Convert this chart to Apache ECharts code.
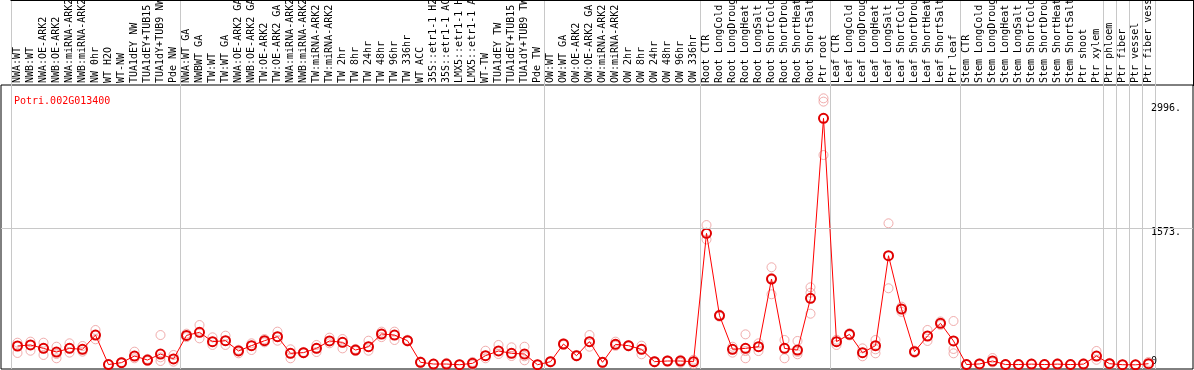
<!DOCTYPE html>
<html>
<head>
<meta charset="utf-8">
<script src="https://cdn.jsdelivr.net/npm/echarts@6/dist/echarts.min.js"></script>
<style>html,body{margin:0;padding:0;background:#fff}#c{width:1194px;height:370px}</style>
</head>
<body>
<div id="c"></div>
<script>
const geneId = 'Potri.002G013400';

const categories = [
  'NWA:WT','NWB:WT','NWA:OE-ARK2','NWB:OE-ARK2','NWA:miRNA-ARK2','NWB:miRNA-ARK2','NW 0hr','WT H2O','WT-NW',
  'TUA1dEY NW','TUA1dEY+TUB15 NW','TUA1dY+TUB9 NW','Pde NW',
  'NWA:WT GA','NWBWT GA','TW:WT','TW:WT GA','NWA:OE-ARK2 GA','NWB:OE-ARK2 GA','TW:OE-ARK2','TW:OE-ARK2 GA',
  'NWA:miRNA-ARK2','NWB:miRNA-ARK2','TW:miRNA-ARK2','TW:miRNA-ARK2','TW 2hr','TW 8hr','TW 24hr','TW 48hr','TW 96hr','TW 336hr',
  'WT ACC','35S::etr1-1 H2O','35S::etr1-1 ACC','LMX5::etr1-1 H2O','LMX5::etr1-1 ACC','WT-TW','TUA1dEY TW','TUA1dEY+TUB15 TW','TUA1dY+TUB9 TW','Pde TW',
  'OW:WT','OW:WT GA','OW:OE-ARK2','OW:OE-ARK2 GA','OW:miRNA-ARK2','OW:miRNA-ARK2','OW 2hr','OW 8hr','OW 24hr','OW 48hr','OW 96hr','OW 336hr',
  'Root CTR','Root LongCold','Root LongDrought','Root LongHeat','Root LongSalt','Root ShortCold','Root ShortDrought','Root ShortHeat','Root ShortSalt','Ptr root',
  'Leaf CTR','Leaf LongCold','Leaf LongDrought','Leaf LongHeat','Leaf LongSalt','Leaf ShortCold','Leaf ShortDrought','Leaf ShortHeat','Leaf ShortSalt','Ptr leaf',
  'Stem CTR','Stem LongCold','Stem LongDrought','Stem LongHeat','Stem LongSalt','Stem ShortCold','Stem ShortDrought','Stem ShortHeat','Stem ShortSalt','Ptr shoot',
  'Ptr xylem','Ptr phloem','Ptr fiber','Ptr vessel','Ptr fiber vessel'
];

// index of the first category of each group (a separator is drawn before it)
const groupStarts = [0, 13, 41, 53, 63, 73, 84, 85, 86, 87];

const meanValues = [
  218,230,191,149,191,180,344,5,27,103,57,126,69,
  340,375,268,279,161,222,279,325,134,142,191,276,260,172,210,356,344,279,31,11,11,3,19,107,161,134,126,3,
  38,241,107,268,31,237,222,180,38,46,46,38,
  1512,568,180,191,210,987,191,172,766,2832,
  268,352,142,222,1255,643,153,333,479,276,
  5,12,46,5,5,10,5,10,5,10,
  103,15,3,2,15
];

const replicates = [
  [256,218,138],[268,230,164],[256,191,115],[210,126,77],[249,191,142],[218,180,153],[402,344,295],[10,5,2],[35,27,20],
  [153,103,77],[70,57,45],[344,88,46],[115,69,38],
  [360,335,320],[459,375,306],[318,268,230],[337,279,230],[175,161,134],[249,222,172],[298,279,260],[383,325,279],
  [180,134,77],[150,142,135],[230,191,149],[314,276,249],[298,260,191],[185,172,160],[279,210,164],[383,356,320],[383,344,287],[290,279,270],
  [40,31,25],[15,11,8],[25,11,5],[8,3,0],[35,19,0],[164,107,77],[230,161,126],[203,134,103],[210,100,54],[5,3,0],
  [45,38,30],[250,241,230],[115,107,100],[344,268,210],[35,31,25],[268,237,220],[230,222,215],[222,180,123],[45,38,30],[55,46,40],[60,46,25],[60,38,10],
  [1607,1512,1441],[580,568,555],[210,180,142],[352,160,77],[249,210,160],[1122,1000,812],[287,191,77],[276,150,123],[892,830,589],[3062,3024,2411],
  [290,268,230],[365,352,340],[191,142,100],[287,180,134],[1627,1255,881],[670,643,610],[165,153,140],[402,333,276],[500,479,460],[505,184,134],
  [10,5,0],[20,12,5],[80,46,30],[10,5,0],[10,5,0],[15,10,5],[10,5,2],[20,10,5],[10,5,0],[20,10,5],
  [161,103,60],[25,15,8],[5,3,0],[4,2,0],[35,15,5]
];

const yTickValues = [0, 1573, 2996];
const yGridValue = 1573;

const repPoints = [];
replicates.forEach((reps, i) => reps.forEach(v => repPoints.push([i, v])));

const mono = 'DejaVu Sans Mono';
const chart = echarts.init(document.getElementById('c'), null, {renderer: 'canvas'});
chart.setOption({
  animation: false,
  backgroundColor: '#fff',
  title: {
    text: geneId, left: 9, top: 91,
    textStyle: {color: '#ff0000', fontFamily: mono, fontSize: 10, fontWeight: 'normal'}
  },
  grid: [
    {left: 11, top: 0, width: 1144, height: 369, show: false, containLabel: false, outerBoundsMode: 'none'},
    {left: 1, top: 85, width: 1192, height: 284, show: true, borderColor: '#000', borderWidth: 1, backgroundColor: 'transparent', containLabel: false, outerBoundsMode: 'none'}
  ],
  xAxis: [
    {
      type: 'category', gridIndex: 0, data: categories, position: 'top', boundaryGap: true,
      axisLine: {show: false}, axisTick: {show: false},
      axisLabel: {
        show: true, inside: true, interval: 0, rotate: 90, margin: 83,
        align: 'left', verticalAlign: 'middle',
        fontFamily: mono, fontSize: 10, color: '#000'
      },
      splitLine: {
        show: true,
        interval: (index) => groupStarts.includes(index),
        lineStyle: {color: '#c8c8c8', width: 1}
      }
    },
    {type: 'value', gridIndex: 1, min: 0, max: 1, show: false}
  ],
  yAxis: [
    {type: 'value', gridIndex: 0, min: -46, max: 4191, show: false},
    {
      type: 'value', gridIndex: 1, min: -46, max: 3215, position: 'right',
      axisLine: {show: false}, axisTick: {show: false}, splitLine: {show: false},
      axisLabel: {
        show: true, inside: true, margin: 42, customValues: yTickValues,
        align: 'left', verticalAlign: 'middle', lineHeight: 8,
        fontFamily: mono, fontSize: 10, color: '#000',
        formatter: (v) => v === 0 ? '0\n' : '\n' + v + '.'
      }
    }
  ],
  graphic: [
    {type: 'line', x: 0, y: 0, shape: {x1: 10.5, y1: 0.5, x2: 1193.5, y2: 0.5}, style: {stroke: '#000', lineWidth: 1}, silent: true, z: 10},
    {type: 'line', x: 0, y: 0, shape: {x1: 1193.5, y1: 0, x2: 1193.5, y2: 86}, style: {stroke: '#000', lineWidth: 1}, silent: true, z: 10}
  ],
  series: [
    {
      type: 'line', xAxisIndex: 1, yAxisIndex: 1, data: [], silent: true,
      markLine: {
        silent: true, symbol: 'none', label: {show: false},
        lineStyle: {color: '#c8c8c8', width: 1, type: 'solid'},
        data: [{yAxis: yGridValue}]
      }
    },
    {
      type: 'scatter', xAxisIndex: 0, yAxisIndex: 0, data: repPoints, silent: true, z: 3,
      symbol: 'circle', symbolSize: 9,
      itemStyle: {color: 'rgba(0,0,0,0)', borderColor: '#ec9898', borderWidth: 1}
    },
    {
      type: 'line', xAxisIndex: 0, yAxisIndex: 0, data: meanValues, silent: true, z: 4,
      symbol: 'circle', symbolSize: 9, showAllSymbol: true,
      lineStyle: {color: '#ff0000', width: 1},
      itemStyle: {color: 'rgba(0,0,0,0)', borderColor: '#e00000', borderWidth: 2}
    }
  ]
});
</script>
</body>
</html>
